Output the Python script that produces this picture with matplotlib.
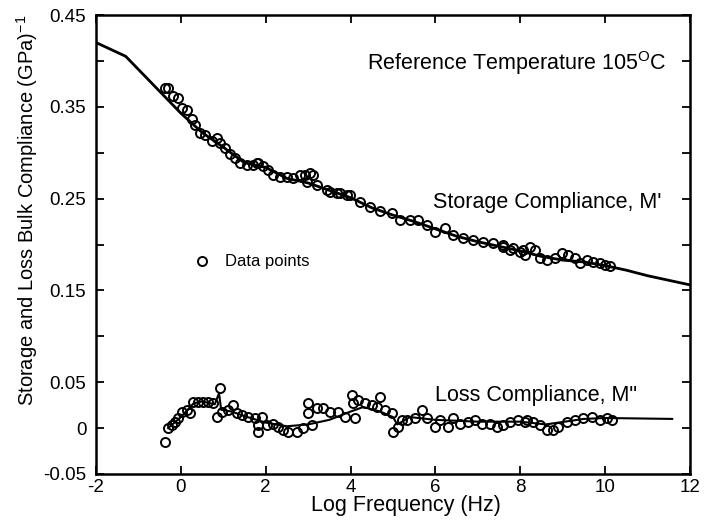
import matplotlib.pyplot as plt

plt.rcParams['font.family'] = ['Liberation Sans', 'DejaVu Sans']
plt.rcParams['mathtext.fontset'] = 'custom'
plt.rcParams['mathtext.rm'] = 'Liberation Sans'
plt.rcParams['mathtext.it'] = 'Liberation Sans:italic'
plt.rcParams['axes.unicode_minus'] = False

# storage compliance, measured points
stor_x = [-0.37, -0.30, -0.18, -0.07, 0.03, 0.14, 0.26, 0.33, 0.45, 0.57, 0.73, 0.85,
          0.92, 1.04, 1.16, 1.28, 1.39, 1.56, 1.70, 1.79, 1.82, 1.94, 2.05, 2.17, 2.34,
          2.50, 2.64, 2.81, 2.92, 2.97, 3.04, 3.11, 3.20, 3.44, 3.52, 3.68, 3.75, 3.91,
          3.99, 4.22, 4.46, 4.69, 4.98, 5.16, 5.40, 5.59, 5.80, 5.99, 6.23, 6.41, 6.65,
          6.89, 7.12, 7.36, 7.59, 7.59, 7.76, 7.83, 7.99, 8.06, 8.11, 8.23, 8.35, 8.46,
          8.63, 8.82, 8.98, 9.12, 9.29, 9.41, 9.57, 9.71, 9.88, 9.99, 10.11]
stor_y = [0.370, 0.371, 0.362, 0.360, 0.349, 0.346, 0.337, 0.330, 0.322, 0.319, 0.313, 0.316,
          0.311, 0.305, 0.299, 0.294, 0.289, 0.287, 0.287, 0.289, 0.289, 0.285, 0.281, 0.276, 0.273,
          0.273, 0.272, 0.276, 0.276, 0.268, 0.278, 0.276, 0.265, 0.259, 0.257, 0.256, 0.256, 0.254,
          0.254, 0.246, 0.241, 0.237, 0.234, 0.227, 0.227, 0.227, 0.221, 0.214, 0.218, 0.210, 0.207,
          0.205, 0.203, 0.202, 0.197, 0.199, 0.194, 0.196, 0.192, 0.194, 0.189, 0.197, 0.194, 0.185,
          0.183, 0.185, 0.191, 0.189, 0.185, 0.180, 0.183, 0.181, 0.180, 0.178, 0.177]

# storage compliance, fitted curve
stor_fit_x = [-2.0, -1.3, 0.0, 0.5, 1.0, 1.5, 2.0, 2.5, 3.0, 3.5, 4.0, 4.5, 5.0, 5.5, 6.0,
              6.5, 7.0, 7.5, 8.0, 8.5, 9.0, 9.5, 10.0, 10.5, 11.0, 11.5, 12.0]
stor_fit_y = [0.420, 0.405, 0.343, 0.322, 0.306, 0.289, 0.284, 0.272, 0.267, 0.259, 0.251,
              0.240, 0.232, 0.225, 0.217, 0.209, 0.203, 0.198, 0.193, 0.187, 0.183, 0.181,
              0.177, 0.172, 0.166, 0.161, 0.156]

# loss compliance, measured points
loss_x = [-0.37, -0.30, -0.21, -0.14, -0.07, 0.03, 0.14, 0.21, 0.29, 0.41, 0.52, 0.64,
          0.76, 0.92, 0.85, 0.97, 1.11, 1.23, 1.32, 1.44, 1.58, 1.75, 1.91, 1.82, 1.82,
          2.03, 2.17, 2.29, 2.41, 2.53, 2.74, 2.88, 3.09, 3.00, 3.00, 3.21, 3.35, 3.52,
          3.70, 3.87, 4.03, 4.06, 4.10, 4.18, 4.34, 4.50, 4.62, 4.69, 4.81, 4.98, 5.00,
          5.12, 5.21, 5.33, 5.52, 5.68, 5.80, 5.99, 6.11, 6.30, 6.41, 6.58, 6.77, 6.93,
          7.10, 7.29, 7.45, 7.59, 7.76, 7.95, 8.11, 8.16, 8.30, 8.46, 8.63, 8.77, 8.89,
          9.10, 9.29, 9.48, 9.69, 9.88, 10.04, 10.16]
loss_y = [-0.015, 0.000, 0.003, 0.0065, 0.011, 0.018, 0.020, 0.016, 0.028, 0.028, 0.028, 0.028,
          0.027, 0.044, 0.012, 0.018, 0.020, 0.025, 0.016, 0.014, 0.012, 0.011, 0.012, 0.003, -0.004,
          0.003, 0.005, 0.001, -0.002, -0.004, -0.004, 0.000, 0.003, 0.027, 0.016, 0.022, 0.022, 0.018,
          0.017, 0.012, 0.036, 0.027, 0.011, 0.031, 0.027, 0.025, 0.023, 0.034, 0.020, 0.016, -0.004,
          0.001, 0.009, 0.009, 0.011, 0.020, 0.011, 0.001, 0.009, 0.001, 0.011, 0.005, 0.007, 0.009,
          0.005, 0.005, 0.001, 0.003, 0.007, 0.009, 0.007, 0.009, 0.007, 0.003, -0.002, -0.002, 0.001,
          0.007, 0.009, 0.011, 0.012, 0.009, 0.011, 0.009]

# loss compliance, fitted curve
loss_fit_x = [-0.30, 0.0, 0.3, 0.5, 0.8, 0.9, 0.95, 1.2, 1.5, 2.0, 2.5, 3.0, 3.5, 4.0, 4.3,
              4.7, 5.0, 5.1, 5.4, 6.0, 7.0, 8.0, 8.6, 9.5, 10.0, 11.58]
loss_fit_y = [0.000, 0.012, 0.027, 0.029, 0.026, 0.038, 0.020, 0.018, 0.013, 0.006, 0.002,
              0.004, 0.009, 0.018, 0.023, 0.018, 0.012, 0.004, 0.012, 0.009, 0.007, 0.007,
              0.004, 0.010, 0.011, 0.010]

fig = plt.figure(figsize=(7.04, 5.2), dpi=100)
ax = fig.add_axes([96/704, 46/520, 594/704, 459/520])

ax.plot(stor_fit_x, stor_fit_y, color='black', lw=2)
ax.plot(loss_fit_x, loss_fit_y, color='black', lw=1.5)
pts, = ax.plot(stor_x, stor_y, 'o', mfc='none', mec='black', ms=6.5, mew=1.4, label='Data points')
ax.plot(loss_x, loss_y, 'o', mfc='none', mec='black', ms=6.5, mew=1.4)

ax.set_xlim(-2, 12)
ax.set_ylim(-0.05, 0.45)
ax.set_xticks(range(-2, 13, 2))
ax.set_yticks([-0.05, 0, 0.05, 0.1, 0.15, 0.2, 0.25, 0.3, 0.35, 0.4, 0.45])
ax.set_yticklabels(['-0.05', '0', '0.05', '', '0.15', '', '0.25', '', '0.35', '', '0.45'])
ax.tick_params(direction='in', length=6, width=1.3, top=True, right=True, labelsize=13.5)
ax.tick_params(axis='y', pad=7)
for s in ax.spines.values():
    s.set_linewidth(1.8)

ax.set_xlabel('Log Frequency (Hz)', fontsize=15.5)
ax.xaxis.set_label_coords(0.522, -0.045)
ax.set_ylabel('Storage and Loss Bulk Compliance (GPa)$^{-1}$', fontsize=14.5)
ax.yaxis.set_label_coords(-0.094, 0.575)

ax.text(4.39, 0.3976, 'Reference Temperature 105$^{\\rm O}$C', fontsize=15.5, va='center')
ax.text(5.94, 0.246, "Storage Compliance, M'", fontsize=15.5, va='center')
ax.text(5.99, 0.036, 'Loss Compliance, M"', fontsize=15.5, va='center')

ax.legend(handles=[pts], loc='center left', bbox_to_anchor=(0.1645, 0.462), frameon=False,
          fontsize=12, borderpad=0, borderaxespad=0, handlelength=1, handletextpad=0.88,
          numpoints=1)

fig.savefig('out.png', dpi=100)
